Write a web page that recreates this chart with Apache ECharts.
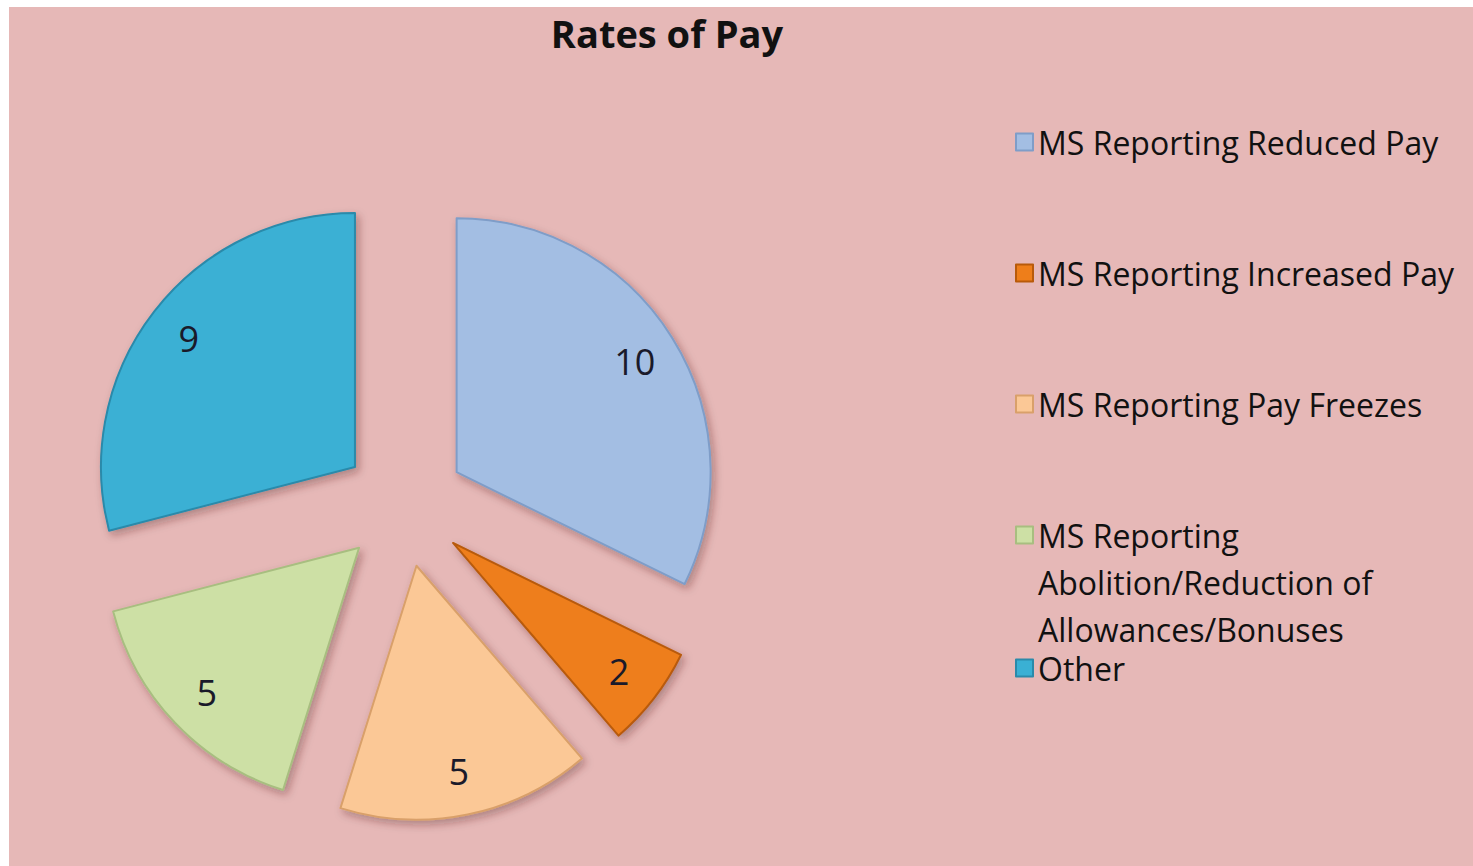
<!DOCTYPE html>
<html>
<head>
<meta charset="utf-8">
<title>Rates of Pay</title>
<script src="https://cdn.jsdelivr.net/npm/echarts@6/dist/echarts.min.js"></script>
<style>
    html, body { margin: 0; padding: 0; background: #fff; }
    #box { position: absolute; left: 9px; top: 7px; width: 1464px; height: 859px; }
</style>
</head>
<body>
<div id="box"></div>
<script>
const categories = [
    'MS Reporting Reduced Pay',
    'MS Reporting Increased Pay',
    'MS Reporting Pay Freezes',
    'MS Reporting Abolition/Reduction of Allowances/Bonuses',
    'Other'
];
// the long entry wraps onto three lines, first line level with its marker
const legendLabels = [
    'MS Reporting Reduced Pay',
    'MS Reporting Increased Pay',
    'MS Reporting Pay Freezes',
    '\n\nMS Reporting\nAbolition/Reduction of\nAllowances/Bonuses',
    'Other'
];
const counts = [10, 2, 5, 5, 9];
const sliceColors = ['#A3BEE3', '#EE7E1A', '#FBC896', '#CDE0A5', '#3AB0D4'];
const edgeColors = ['#7F9DC8', '#B85A0A', '#D9A06A', '#A8BE80', '#2A8AAA'];

const myChart = echarts.init(document.getElementById('box'), null, { renderer: 'svg' });

const fontFamily = '"Open Sans", sans-serif';
// legend marker centres (y) inside the chart box
const legendCentres = [135, 266, 397, 528, 660];

let legends = categories.map((name, i) => {
    let multi = legendLabels[i].indexOf('\n') >= 0;
    let lineH = multi ? 47 : (i === 4 ? 30 : 36);
    return {
        orient: 'vertical',
        left: 1006,
        top: legendCentres[i] - (multi ? lineH * 5 : lineH) / 2,
        padding: 0,
        icon: 'rect',
        itemWidth: 17,
        itemHeight: 17,
        data: [name],
        formatter: () => legendLabels[i],
        textStyle: {
            fontFamily: fontFamily,
            fontSize: 32,
            color: '#111',
            lineHeight: lineH
        }
    };
});

let sliceData = counts.map((v, i) => ({
    name: categories[i],
    value: v,
    selected: true,
    itemStyle: { color: sliceColors[i], borderColor: edgeColors[i] }
}));

let labelData = counts.map((v, i) => ({
    name: categories[i],
    value: v,
    selected: true
}));

let option = {
    backgroundColor: '#E6B8B7',
    animation: false,
    title: {
        text: 'Rates of Pay',
        left: 653,
        top: 2,
        textAlign: 'center',
        textStyle: { fontFamily: fontFamily, fontSize: 38, fontWeight: 'bold', color: '#111' }
    },
    legend: legends,
    series: [
        {
            name: 'Rates of Pay',
            type: 'pie',
            center: [395, 498],
            radius: 254,
            startAngle: 90,
            clockwise: true,
            selectedMode: 'multiple',
            selectedOffset: 62,
            label: { show: false },
            labelLine: { show: false },
            emphasis: { scale: false },
            itemStyle: {
                borderWidth: 2,
                shadowBlur: 8,
                shadowOffsetX: 3,
                shadowOffsetY: 4,
                shadowColor: 'rgba(70, 30, 30, 0.35)'
            },
            data: sliceData
        },
        {
            // almost invisible ring, only used to place the value labels further out
            name: 'labels',
            type: 'pie',
            silent: true,
            center: [395, 498],
            radius: [160, 254],
            startAngle: 90,
            clockwise: true,
            selectedMode: 'multiple',
            selectedOffset: 62,
            itemStyle: { color: 'rgba(255,255,255,0.001)' },
            label: {
                show: true,
                position: 'inside',
                formatter: '{c}',
                fontFamily: fontFamily,
                fontSize: 36,
                color: '#1a1a2a'
            },
            labelLine: { show: false },
            emphasis: { scale: false },
            data: labelData
        }
    ]
};
myChart.setOption(option);
</script>
</body>
</html>
